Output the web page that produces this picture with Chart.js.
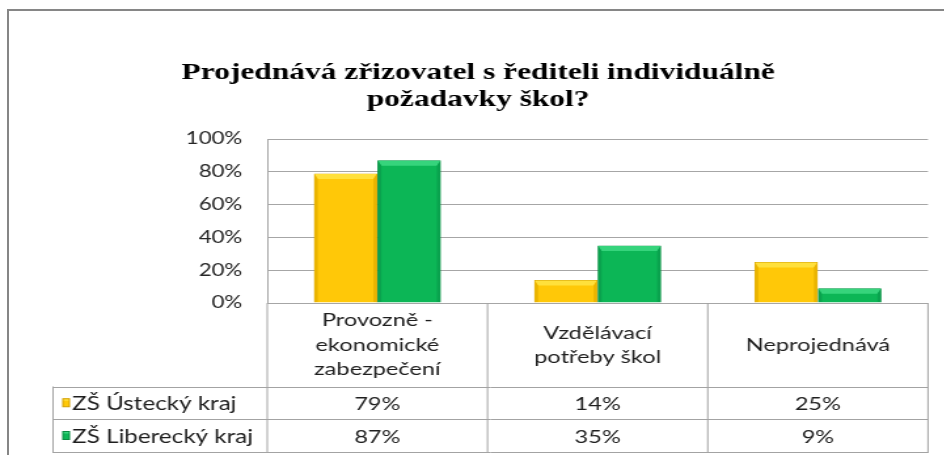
<!DOCTYPE html>
<html>
<head>
<meta charset="utf-8">
<script src="https://cdn.jsdelivr.net/npm/chart.js@4.4.1/dist/chart.umd.min.js"></script>
<style>
  html, body { margin: 0; padding: 0; background: #fff; overflow: hidden; }
  #frame { position: absolute; left: 7px; top: 9px; width: 1000px; height: 600px; border: 2px solid #868686; }
  /* the source picture is stretched sideways, so draw narrow and stretch the same way */
  #wrap { position: absolute; left: 0; top: 0; width: 721px; height: 455px; transform: scaleX(1.31); transform-origin: 0 0; }
</style>
</head>
<body>
<div id="frame"></div>
<div id="wrap"><canvas id="chart"></canvas></div>
<script>
const titleLines = ['Projednává zřizovatel s řediteli individuálně', 'požadavky škol?'];
const categories = [['Provozně -', 'ekonomické', 'zabezpečení'], ['Vzdělávací', 'potřeby škol'], ['Neprojednává']];
const seriesNames = ['ZŠ Ústecký kraj', 'ZŠ Liberecký kraj'];
const usteckyValues = [79, 14, 25];
const libereckyValues = [87, 35, 9];
const yTicks = [0, 20, 40, 60, 80, 100];

const yellow = { fill: '#ffc808', edge: '#d29e00', light: '#ffe03c', dark: '#eab400' };
const green = { fill: '#0cb656', edge: '#098a40', light: '#36d47c', dark: '#0aa24e' };
const palette = [yellow, green];

function hline(ctx, x1, x2, y) {
  ctx.beginPath(); ctx.moveTo(x1, Math.round(y) + 0.5); ctx.lineTo(x2, Math.round(y) + 0.5); ctx.stroke();
}
function vline(ctx, x, y1, y2) {
  ctx.beginPath(); ctx.moveTo(x, y1); ctx.lineTo(x, y2); ctx.stroke();
}

const titlePlugin = {
  id: 'titleText',
  afterDraw(chart) {
    const ctx = chart.ctx;
    ctx.save();
    ctx.fillStyle = '#000';
    ctx.font = 'bold 24px "Liberation Serif"';
    ctx.textAlign = 'center';
    ctx.textBaseline = 'alphabetic';
    titleLines.forEach((t, i) => ctx.fillText(t, 365, 79 + i * 27));
    ctx.restore();
  }
};

// Excel style bevel on the bars: light top, thin shaded sides
const bevelPlugin = {
  id: 'bevel',
  afterDatasetsDraw(chart) {
    const ctx = chart.ctx;
    chart.data.datasets.forEach((ds, di) => {
      const c = palette[di];
      chart.getDatasetMeta(di).data.forEach(bar => {
        const p = bar.getProps(['x', 'y', 'base', 'width'], true);
        const l = p.x - p.width / 2 + 0.5, r = p.x + p.width / 2 - 0.5;
        const t = p.y + 0.5, b = p.base - 0.5;
        const by = Math.min(5, (b - t) / 2), bx = 2.5;
        ctx.save();
        ctx.fillStyle = c.light;
        ctx.beginPath(); ctx.moveTo(l, t); ctx.lineTo(r, t); ctx.lineTo(r - bx, t + by); ctx.lineTo(l + bx, t + by); ctx.closePath(); ctx.fill();
        ctx.fillStyle = c.dark;
        ctx.beginPath(); ctx.moveTo(r, t); ctx.lineTo(r, b); ctx.lineTo(r - bx, b); ctx.lineTo(r - bx, t + by); ctx.closePath(); ctx.fill();
        ctx.beginPath(); ctx.moveTo(l, t); ctx.lineTo(l, b); ctx.lineTo(l + bx, b); ctx.lineTo(l + bx, t + by); ctx.closePath(); ctx.fill();
        ctx.restore();
      });
    });
  }
};

// data table under the plot
const tablePlugin = {
  id: 'dataTable',
  afterDraw(chart) {
    const ctx = chart.ctx, a = chart.chartArea, x = chart.scales.x;
    const n = categories.length, cw = (a.right - a.left) / n;
    const row0 = a.bottom, row1 = a.bottom + 83.5, row2 = row1 + 32.5, row3 = row2 + 33;
    const tableLeft = 40.5;
    ctx.save();
    ctx.strokeStyle = '#a3a3a3';
    ctx.lineWidth = 1;
    [row1, row2, row3].forEach(yy => hline(ctx, tableLeft, a.right, yy));
    vline(ctx, tableLeft, row1, row3 + 1);
    for (let i = 0; i <= n; i++) vline(ctx, a.left + i * cw, row0, row3 + 1);

    ctx.fillStyle = '#1e1e1e';
    ctx.font = '18px Lato';
    ctx.textAlign = 'center';
    ctx.textBaseline = 'alphabetic';
    categories.forEach((lines, i) => {
      const cx = x.getPixelForValue(i);
      const mid = (row0 + row1) / 2;
      lines.forEach((t, j) => ctx.fillText(t, cx, mid + (j - (lines.length - 1) / 2) * 24.4 + 6));
    });

    const rows = [[row1, row2], [row2, row3]];
    chart.data.datasets.forEach((ds, di) => {
      const mid = (rows[di][0] + rows[di][1]) / 2;
      const c = palette[di];
      ctx.fillStyle = c.fill;
      ctx.fillRect(48, mid - 4, 5, 8);
      ctx.fillStyle = c.light;
      ctx.fillRect(48, mid - 4, 5, 2);
      ctx.strokeStyle = c.edge;
      ctx.strokeRect(48, mid - 4, 5, 8);
      ctx.fillStyle = '#1e1e1e';
      ctx.textAlign = 'left';
      ctx.font = '18.5px Lato';
      ctx.fillText(seriesNames[di], 55, mid + 7);
      ctx.font = '18px Lato';
      ctx.textAlign = 'center';
      ds.data.forEach((v, i) => ctx.fillText(v + '%', x.getPixelForValue(i), mid + 7));
    });
    ctx.restore();
  }
};

new Chart(document.getElementById('chart'), {
  type: 'bar',
  data: {
    labels: categories,
    datasets: [
      { label: seriesNames[0], data: usteckyValues, backgroundColor: yellow.fill, borderColor: yellow.edge, borderWidth: 1 },
      { label: seriesNames[1], data: libereckyValues, backgroundColor: green.fill, borderColor: green.edge, borderWidth: 1 }
    ]
  },
  options: {
    responsive: true,
    maintainAspectRatio: false,
    animation: false,
    devicePixelRatio: 1,
    categoryPercentage: 0.577,
    barPercentage: 1,
    layout: { padding: { top: 139, bottom: 152, left: 0, right: 12.6 } },
    plugins: { legend: { display: false }, tooltip: { enabled: false }, title: { display: false } },
    scales: {
      x: { display: false },
      y: {
        min: 0,
        max: 100,
        afterBuildTicks: s => { s.ticks = yTicks.map(v => ({ value: v })); },
        afterFit: s => { s.width = 204; },
        ticks: { callback: v => v + '%', padding: 19, color: '#262626', font: { family: 'Lato', size: 17 } },
        grid: { color: '#a6a6a6', drawTicks: false },
        border: { color: '#a6a6a6' }
      }
    }
  },
  plugins: [bevelPlugin, tablePlugin, titlePlugin]
});
</script>
</body>
</html>
